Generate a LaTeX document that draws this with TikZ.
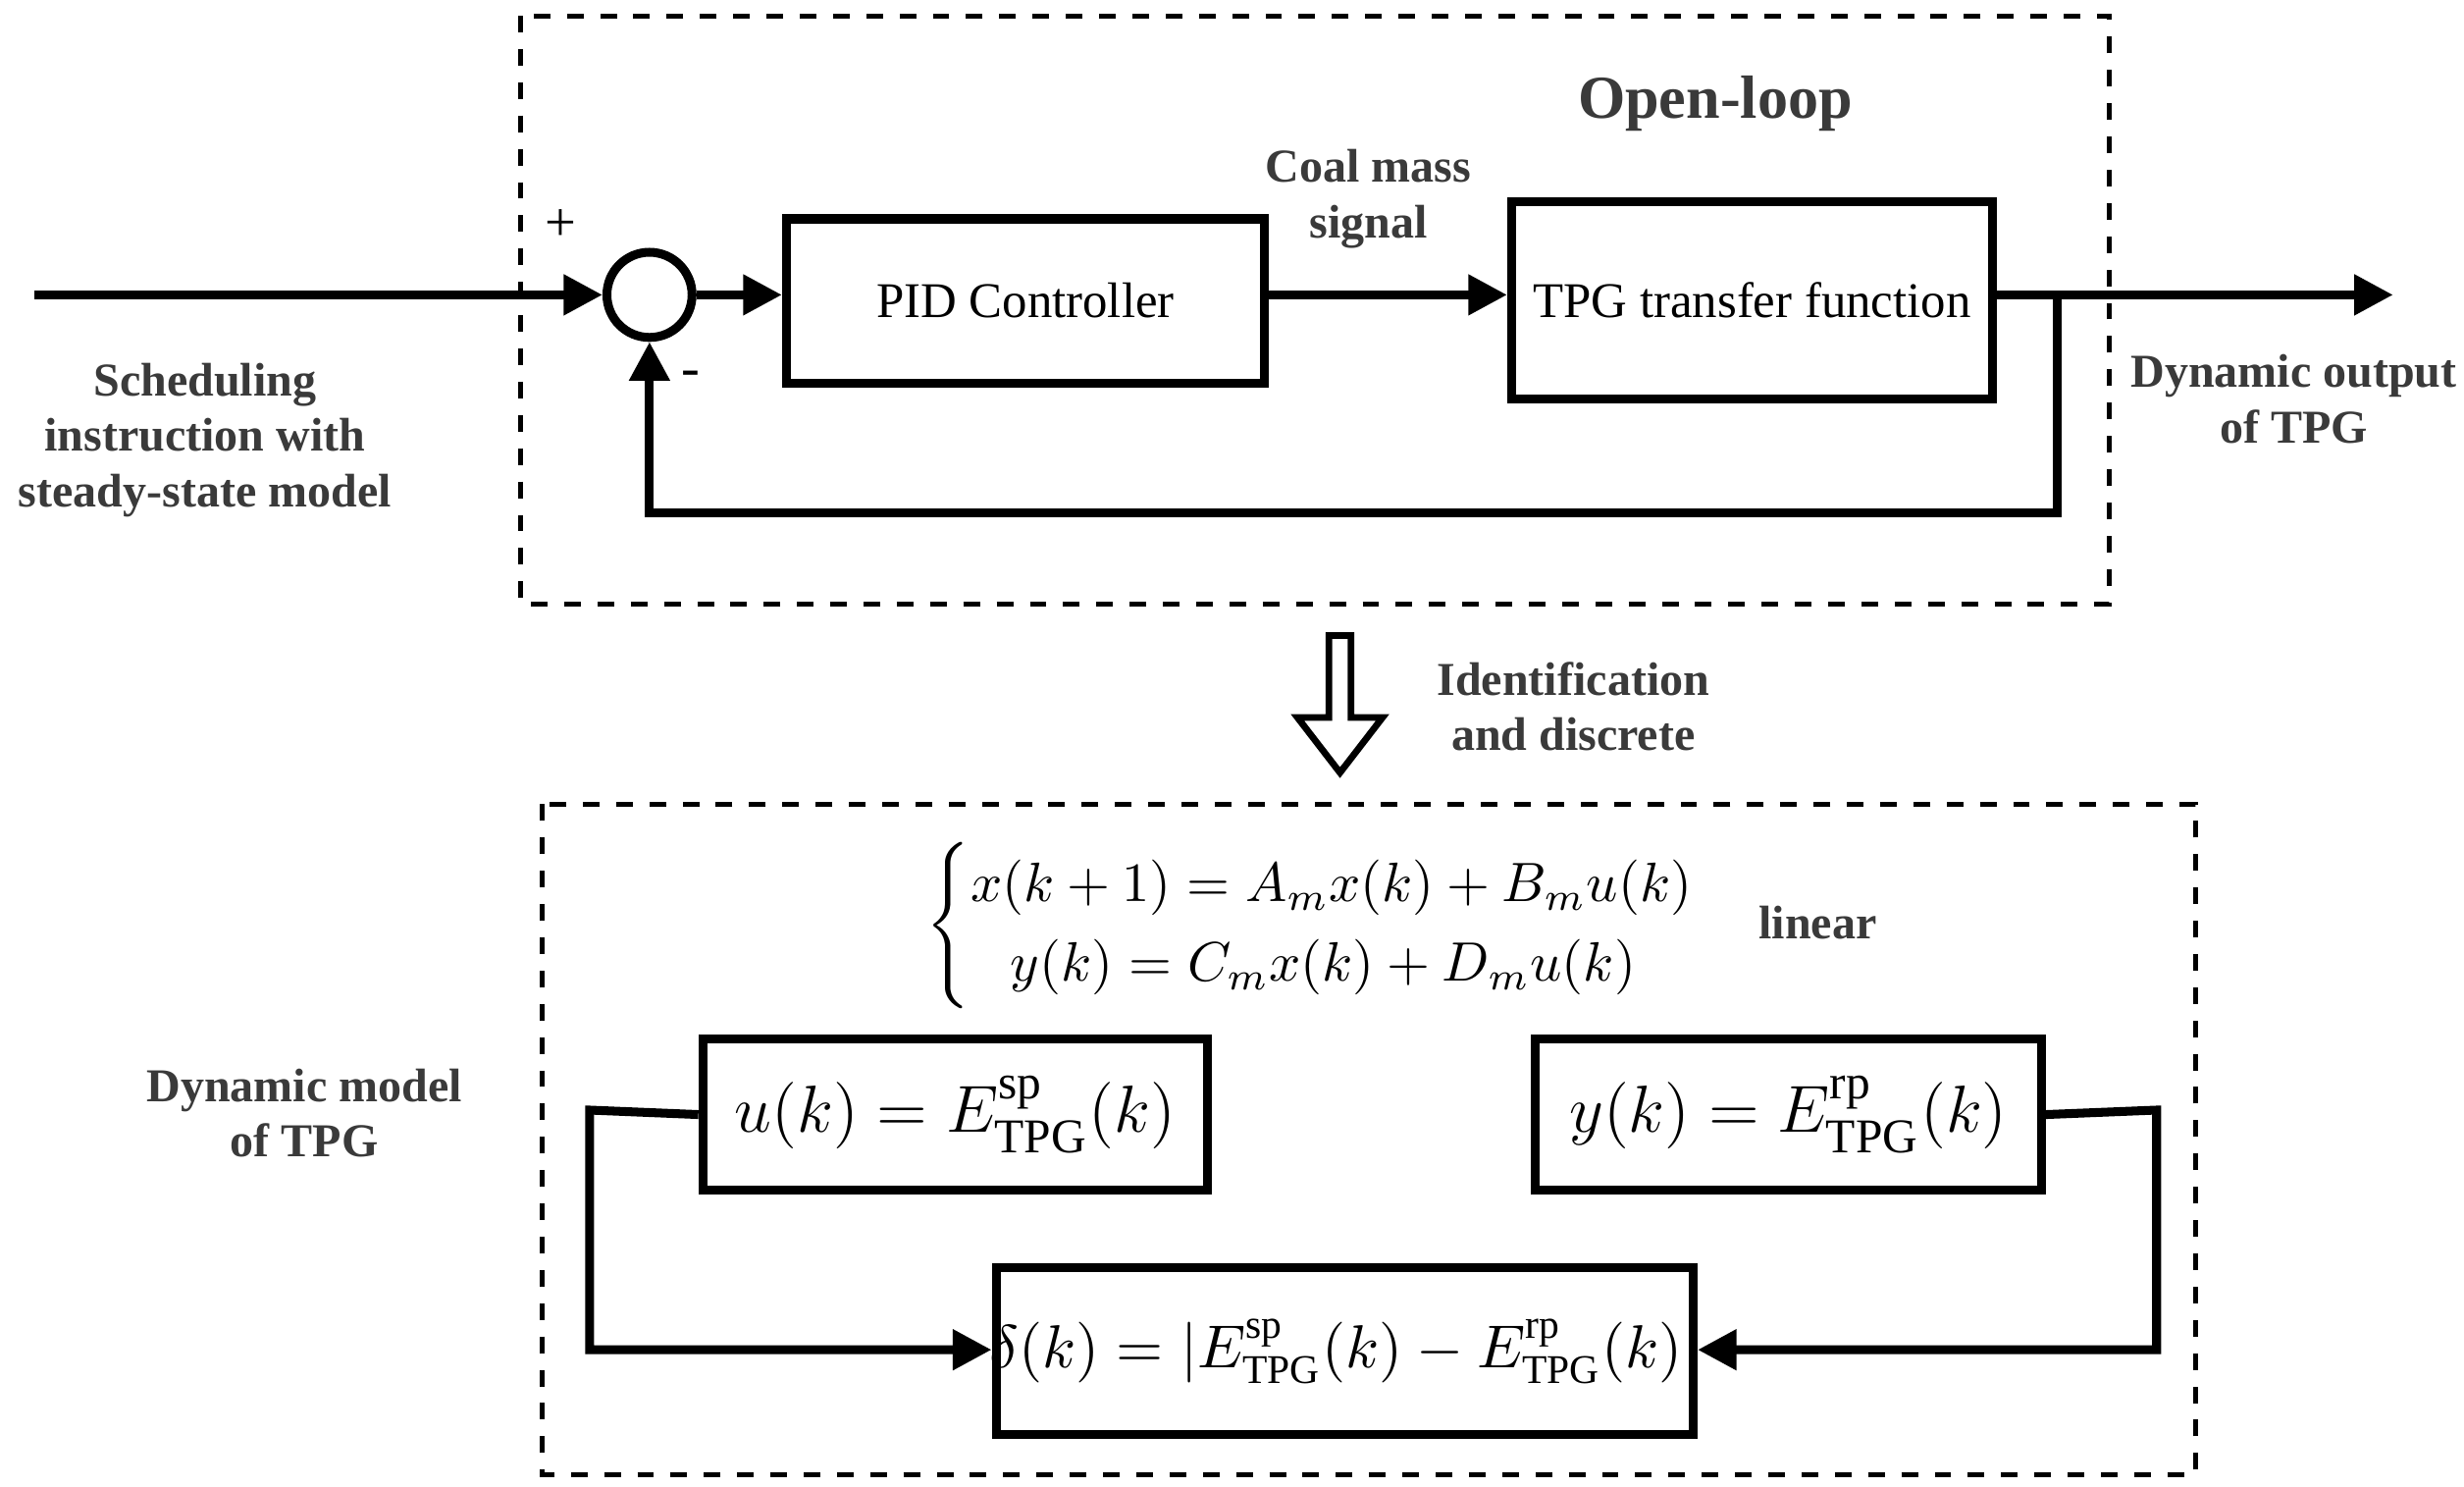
\documentclass[tikz,border=0pt]{standalone}
\usepackage{amsmath}
\usepackage{fontspec}
\setmainfont{Liberation Serif}
\usetikzlibrary{arrows.meta}
\definecolor{txt}{HTML}{3A3A3A}
\begin{document}
\begin{tikzpicture}[x=0.01cm,y=-0.01cm,
  blk/.style={draw,line width=1.6pt,inner sep=0pt,anchor=north west},
  ln/.style={line width=1.6pt},
  arr/.style={ln,-{Triangle[length=7pt,width=7pt]}},
  lab/.style={font=\bfseries\fontsize{8.5}{10}\selectfont,text=txt,align=center},
  dbox/.style={draw,dashed,line width=0.9pt}]
\useasboundingbox (0,0) rectangle (1563,943);
\draw[dbox] (330,10) rectangle (1338,383);
\draw[dbox] (344,510) rectangle (1393,935);
% top loop
\node[draw,circle,line width=1.6pt,minimum size=0.54cm,inner sep=0pt] (sum) at (412,187) {};
\coordinate (in) at (22,187);
\node[blk,minimum width=3.03cm,minimum height=1.04cm] (pid) at (496,136) {};
\node[font=\fontsize{9}{10}\selectfont] at (pid.center) {PID Controller};
\node[blk,minimum width=3.05cm,minimum height=1.25cm] (tpg) at (956,125) {};
\node[font=\fontsize{9}{10}\selectfont] at (tpg.center) {TPG transfer function};
\coordinate (out) at (1518,187);
\coordinate (fb) at (1305,187);
\draw[arr] (in) -- (sum.west);
\draw[arr] (sum.east) -- (sum.east -| pid.west);
\draw[arr] (pid.east |- 0,187) -- (tpg.west |- 0,187);
\draw[ln] (tpg.east |- 0,187) -- (fb);
\draw[arr] (fb) -- (out);
\draw[arr] (fb) -- (1305,325) -- (412,325) -- (sum.south);
\node[font=\fontsize{10}{10}\selectfont] (plus) at (356,143) {+};
\node[font=\fontsize{10}{10}\selectfont] (minus) at (438,240) {-};
\node[lab] (coal) at (868,126) {Coal mass\\signal};
\node[lab,font=\bfseries\fontsize{11}{12}\selectfont] (ol) at (1088,66) {Open-loop};
\node[lab] (sched) at (130,279) {Scheduling\\instruction with\\steady-state model};
\node[lab] (dyn) at (1455,253) {Dynamic output\\of TPG};
% hollow arrow
\draw[line width=1.2pt,fill=white] (843,403) -- (857,403) -- (857,455) -- (877,455) -- (850,490) -- (823,455) -- (843,455) -- cycle;
\node[lab] (ident) at (998,448) {Identification\\and discrete};
% bottom
\node[font=\fontsize{10}{12}\selectfont] (eq) at (850,587) {$\begin{cases} x(k+1)=A_m x(k)+B_m u(k)\\ \;\;\,y(k)=C_m x(k)+D_m u(k)\end{cases}$};
\node[lab] (lin) at (1153,585) {linear};
\node[lab] (dm) at (193,706) {Dynamic model\\of TPG};
\node[blk,minimum width=3.2cm,minimum height=0.96cm] (u) at (443,656) {};
\node[font=\fontsize{12.5}{14}\selectfont] at (u.center) {$u(k)=E^{\mathrm{sp}}_{\mathrm{TPG}}(k)$};
\node[blk,minimum width=3.21cm,minimum height=0.96cm] (y) at (971,656) {};
\node[font=\fontsize{12.5}{14}\selectfont] at (y.center) {$y(k)=E^{\mathrm{rp}}_{\mathrm{TPG}}(k)$};
\node[blk,minimum width=4.42cm,minimum height=1.06cm] (d) at (629,801) {};
\node[font=\fontsize{10.5}{12}\selectfont] at (d.center) {$\delta(k)=\left|E^{\mathrm{sp}}_{\mathrm{TPG}}(k)-E^{\mathrm{rp}}_{\mathrm{TPG}}(k)\right|$};
\draw[arr] (u.west) -- (374,704) -- (374,856) -- (d.west |- 0,856);
\draw[arr] (y.east) -- (1368,704) -- (1368,856) -- (d.east |- 0,856);
\end{tikzpicture}
\end{document}
